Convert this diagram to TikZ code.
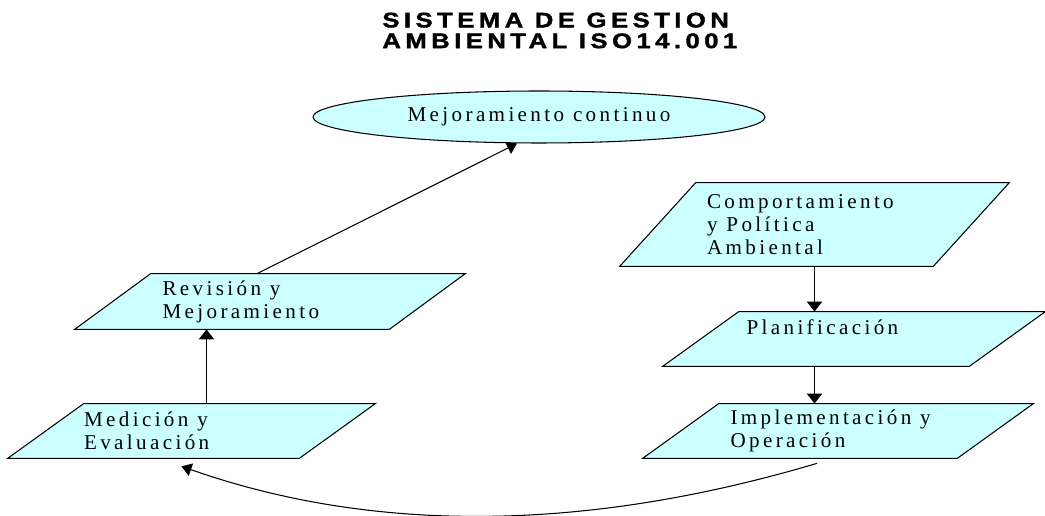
\documentclass[tikz,border=0pt]{standalone}
\usepackage{fontspec}
\usepackage{tikz}
\usetikzlibrary{shapes.geometric, arrows.meta, positioning, backgrounds, calc}
\setmainfont{Liberation Serif}
\newfontfamily\isotitle[FakeStretch=1.22,FakeBold=1.6,LetterSpace=21]{Liberation Sans}
\newfontfamily\isotext[LetterSpace=16]{Liberation Serif}
\definecolor{isocyan}{RGB}{204,255,255}
\tikzstyle{stage} = [rectangle, inner sep=0pt, minimum height=1.08cm, text width=4.3cm, align=left, font=\isotext\fontsize{12}{13}\selectfont]
\tikzstyle{stageline} = [draw=black, line width=0.6pt, fill=isocyan]
\tikzstyle{goal} = [ellipse, draw=black, line width=0.6pt, fill=isocyan, inner sep=0pt, minimum width=9.04cm, minimum height=1.04cm, font=\isotext\fontsize{12}{13}\selectfont]
\tikzstyle{flow} = [line width=1.1pt, -{Triangle[width=0.3cm,length=0.2cm]}]
\tikzstyle{link} = [line width=0.6pt, -{Triangle[width=0.26cm,length=0.2cm]}]
\newcommand{\slant}{1.52cm}
\newcommand{\wsp}{\nobreak\hspace{0.42em}}

\begin{document}
\begin{tikzpicture}[x=0.02cm, y=-0.02cm]
\useasboundingbox (0,0) rectangle (1045,516);

% Title
\node[anchor=west, align=left, inner sep=0pt, font=\isotitle\bfseries\fontsize{12}{11.8}\selectfont] (title) at (382,30.5) {SISTEMA DE GESTION\\AMBIENTAL ISO14.001};

% Goal
\node[goal] (mej) at (539,117) {Mejoramiento\wsp continuo};

% Stages
\node[stage, minimum width=7.78cm, minimum height=1.66cm] (comp) at (814.5,224.5) {Comportamiento\\y\wsp Política\\Ambiental};
\node[stage, minimum width=7.64cm] (plan) at (854,339) {Planificación\\~};
\node[stage, minimum width=7.8cm] (impl) at (838,431) {Implementación\wsp y\\Operación};
\node[stage, minimum width=7.34cm] (med) at (191.5,431) {Medición\wsp y\\Evaluación};
\node[stage, minimum width=7.8cm, minimum height=1.1cm] (rev) at (270,301.5) {Revisión\wsp y\\Mejoramiento};

% Parallelograms behind the texts
\begin{scope}[on background layer]
\foreach \n in {comp,plan,impl,med,rev}
  \path[stageline] ([xshift=\slant]\n.north west) -- (\n.north east) -- ([xshift=-\slant]\n.south east) -- (\n.south west) -- cycle;
\end{scope}

% Arrows
\draw[flow] (comp.south) -- (comp.south |- plan.north);
\draw[flow] (comp.south |- plan.south) -- (comp.south |- impl.north);
\draw[link] ([xshift=-0.42cm,yshift=-0.1cm]impl.south) .. controls (586,532) and (374,534) .. ([xshift=-0.2cm,yshift=-0.16cm]med.south);
\draw[flow] ([xshift=0.3cm]med.north) -- ([xshift=0.3cm]med.north |- rev.south);
\draw[link] ([xshift=-0.26cm]rev.north) -- ([xshift=-0.44cm]mej.south);
\end{tikzpicture}
\end{document}
